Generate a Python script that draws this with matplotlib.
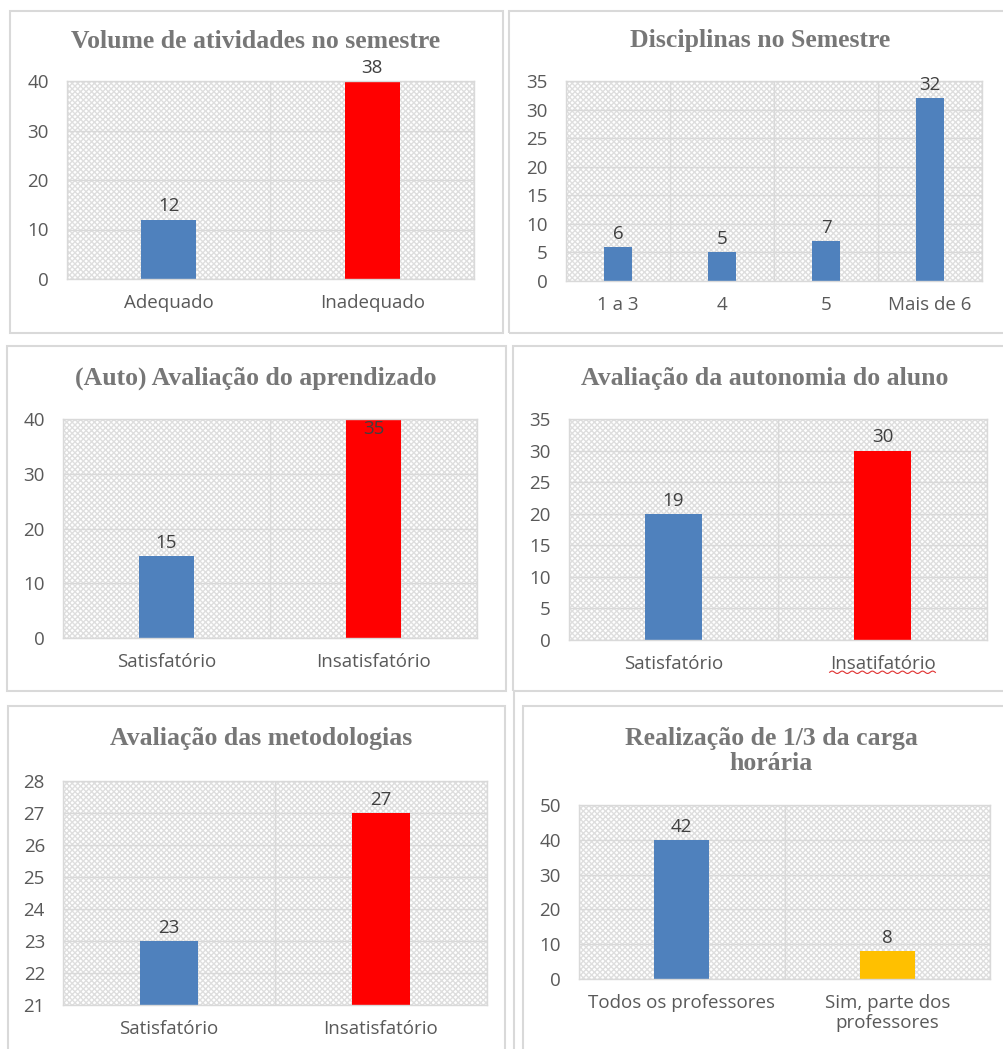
import matplotlib
matplotlib.use("Agg")
import matplotlib.pyplot as plt
from matplotlib.patches import Rectangle
from matplotlib.lines import Line2D
import numpy as np

W, H = 1004, 1049

# ---------------- data ----------------
vol_cats = ["Adequado", "Inadequado"]
vol_bars = [12, 40]
vol_labels = ["12", "38"]

disc_cats = ["1 a 3", "4", "5", "Mais de 6"]
disc_bars = [6, 5, 7, 32]
disc_labels = ["6", "5", "7", "32"]

apr_cats = ["Satisfatório", "Insatisfatório"]
apr_bars = [15, 40]
apr_labels = ["15", "35"]

aut_cats = ["Satisfatório", "Insatifatório"]
aut_bars = [20, 30]
aut_labels = ["19", "30"]

met_cats = ["Satisfatório", "Insatisfatório"]
met_bars = [23, 27]
met_labels = ["23", "27"]

carga_cats = ["Todos os professores", "Sim, parte dos\nprofessores"]
carga_bars = [40, 8]
carga_labels = ["42", "8"]

BLUE, RED, YEL = "#4f81bd", "#ff0000", "#ffc000"
GRID = "#d9d9d9"
TICK = "#595959"
TITLE = "#777777"
SANS = "Open Sans"
SERIF = "Liberation Serif"

fig = plt.figure(figsize=(W / 100, H / 100), dpi=100)
fig.patch.set_facecolor("white")


def fig_rect(l, t, r, b):
    return [l / W, 1 - b / H, (r - l) / W, (b - t) / H]


def box(l, t, r, b):
    fig.add_artist(Rectangle((l / W, 1 - b / H), (r - l) / W, (b - t) / H,
                             transform=fig.transFigure, fill=False,
                             edgecolor=GRID, lw=1.5, zorder=0))


def vline(x, t, b):
    fig.add_artist(Line2D([x / W, x / W], [1 - t / H, 1 - b / H],
                          transform=fig.transFigure, color=GRID, lw=1.5))


def panel(rect, cats, bars, labels, colors, ylim, step, title, tx, ty,
          label_inside_top=False):
    ax = fig.add_axes(fig_rect(*rect))
    n = len(cats)
    x = np.arange(n)
    ax.set_xlim(-0.5, n - 0.5)
    ax.set_ylim(*ylim)
    ax.set_facecolor("white")
    ax.add_patch(Rectangle((0, 0), 1, 1, transform=ax.transAxes,
                           facecolor="white", edgecolor="#dedede",
                           hatch="xxxxxx", lw=0, zorder=0))
    ticks = np.arange(ylim[0], ylim[1] + 0.001, step)
    ax.set_yticks(ticks)
    ax.set_yticklabels([f"{t:g}" for t in ticks])
    for t in ticks:
        ax.axhline(t, color=GRID, lw=1.0, zorder=1)
    for b in np.arange(-0.5, n - 0.4, 1.0):
        ax.axvline(b, color=GRID, lw=1.0, zorder=1)
    ax.bar(x, bars, width=0.27, color=colors, zorder=2)
    for xi, v, lab in zip(x, bars, labels):
        if label_inside_top and v >= ylim[1]:
            ax.annotate(lab, (xi, ylim[1]), xytext=(0, -1),
                        textcoords="offset points", ha="center", va="top",
                        fontsize=13.5, color="#404040", family=SANS, zorder=3)
        else:
            ax.annotate(lab, (xi, v), xytext=(0, 3),
                        textcoords="offset points", ha="center", va="bottom",
                        fontsize=13.5, color="#404040", family=SANS, zorder=3,
                        annotation_clip=False)
    ax.set_xticks(x)
    ax.set_xticklabels(cats)
    ax.tick_params(length=0, labelsize=13.5, labelcolor=TICK)
    ax.tick_params(axis="y", pad=13)
    ax.tick_params(axis="x", pad=11)
    for lab in ax.get_xticklabels() + ax.get_yticklabels():
        lab.set_family(SANS)
        lab.set_linespacing(1.1)
    for s in ax.spines.values():
        s.set_color(GRID)
        s.set_linewidth(1.0)
    fig.text(tx / W, 1 - ty / H, title, ha="center", va="center",
             fontsize=18.5, fontweight="bold", color=TITLE, family=SERIF,
             linespacing=1.15)
    return ax


# panel boxes
box(10, 11, 503, 333)
box(509, 11, 1010, 333)
box(7, 346, 506, 691)
box(513, 346, 1010, 691)
box(8, 706, 505, 1060)
box(523, 706, 1010, 1060)
vline(514, 691, 1049)

panel((67, 81, 474, 279), vol_cats, vol_bars, vol_labels, [BLUE, RED],
      (0, 40), 10, "Volume de atividades no semestre", 256, 41)
panel((566, 81, 982, 281), disc_cats, disc_bars, disc_labels, [BLUE] * 4,
      (0, 35), 5, "Disciplinas no Semestre", 760, 41)
panel((63, 419, 477, 638), apr_cats, apr_bars, apr_labels, [BLUE, RED],
      (0, 40), 10, "(Auto) Avaliação do aprendizado", 256, 378,
      label_inside_top=True)
ax4 = panel((569, 419, 987, 640), aut_cats, aut_bars, aut_labels, [BLUE, RED],
            (0, 35), 5, "Avaliação da autonomia do aluno", 765, 378)
panel((63, 781, 487, 1005), met_cats, met_bars, met_labels, [BLUE, RED],
      (21, 28), 1, "Avaliação das metodologias", 261, 739)
panel((579, 805, 990, 979), carga_cats, carga_bars, carga_labels, [BLUE, YEL],
      (0, 50), 10, "Realização de 1/3 da carga\nhorária", 771, 751)

# spell-check squiggle under "Insatifatório"
fig.canvas.draw()
r = fig.canvas.get_renderer()
bb = ax4.get_xticklabels()[1].get_window_extent(r)
xs = np.linspace(bb.x0, bb.x1, 120)
ys = bb.y0 + 1.0 + 1.2 * np.sin((xs - bb.x0) / 1.6)
fig.add_artist(Line2D(xs / W, ys / H, transform=fig.transFigure,
                      color="#e03030", lw=0.8))

fig.savefig("out.png", dpi=100, facecolor="white")
